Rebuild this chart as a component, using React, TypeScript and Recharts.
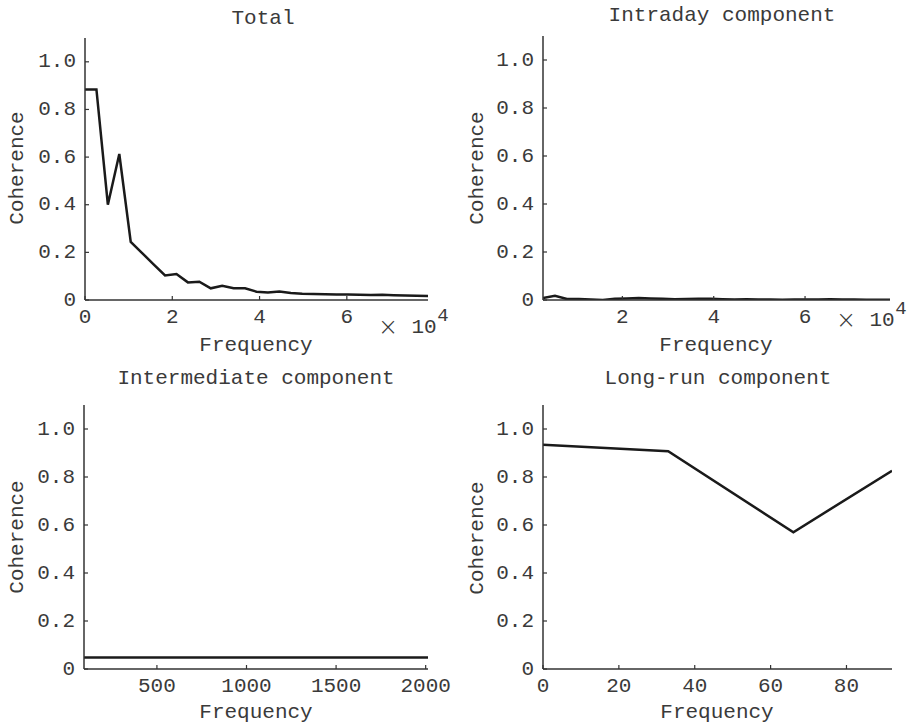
import React from 'react';
import { LineChart, Line, XAxis, YAxis } from 'recharts';

// frequency grids and coherence estimates
const totalFreq = [0, 2620, 5240, 7860, 10480, 13100, 15720, 18340, 20960, 23580, 26200, 28820, 31440, 34060, 36680, 39300, 41920, 44540, 47160, 49780, 52400, 55020, 57640, 60260, 62880, 65500, 68120, 70740, 73360, 75980, 78600];
const totalCoh = [0.884, 0.884, 0.4, 0.613, 0.244, 0.197, 0.15, 0.103, 0.109, 0.074, 0.077, 0.049, 0.06, 0.049, 0.049, 0.035, 0.031, 0.036, 0.029, 0.026, 0.025, 0.024, 0.023, 0.023, 0.022, 0.021, 0.022, 0.02, 0.019, 0.018, 0.017];

const intradayFreq = [2620, 5240, 7860, 10480, 13100, 15720, 18340, 20960, 23580, 26200, 28820, 31440, 34060, 36680, 39300, 41920, 44540, 47160, 49780, 52400, 55020, 57640, 60260, 62880, 65500, 68120, 70740, 73360, 75980, 78600];
const intradayCoh = [0.008, 0.018, 0.004, 0.004, 0.002, 0.0, 0.005, 0.006, 0.008, 0.006, 0.005, 0.003, 0.004, 0.005, 0.005, 0.003, 0.002, 0.003, 0.002, 0.002, 0.001, 0.002, 0.002, 0.002, 0.003, 0.002, 0.002, 0.001, 0.001, 0.001];

const intermediateFreq = [93, 189, 285, 381, 477, 573, 669, 765, 861, 957, 1053, 1149, 1245, 1341, 1437, 1533, 1629, 1725, 1821, 1917, 2013];
const intermediateCoh = [0.048, 0.048, 0.048, 0.048, 0.048, 0.048, 0.048, 0.048, 0.048, 0.048, 0.048, 0.048, 0.048, 0.048, 0.048, 0.048, 0.048, 0.048, 0.048, 0.048, 0.048];

const longRunFreq = [0, 33, 66, 92];
const longRunCoh = [0.934, 0.907, 0.57, 0.826];

const yTicks = [0, 0.2, 0.4, 0.6, 0.8, 1.0];

const FONT = '"Liberation Mono", "DejaVu Sans Mono", monospace';
const TXT = '#3a3a3a';

const zip = (xs: number[], ys: number[]) => xs.map((f, i) => ({ f, c: ys[i] }));

const XTick = (props: any) => {
  const { x, y, payload, fmt } = props;
  return (
    <g>
      <line x1={x} x2={x} y1={y} y2={y - 4} stroke="#333" strokeWidth={1.2} />
      <text x={x} y={y + 17} textAnchor="middle" dominantBaseline="central" fontFamily={FONT} fontSize={21} fill={TXT}>
        {fmt(payload.value)}
      </text>
    </g>
  );
};

const YTick = (props: any) => {
  const { x, y, payload } = props;
  return (
    <g>
      <line x1={x} x2={x + 4} y1={y} y2={y} stroke="#333" strokeWidth={1.2} />
      <text x={x - 9} y={y} textAnchor="end" dominantBaseline="central" fontFamily={FONT} fontSize={21} fill={TXT}>
        {payload.value === 0 ? '0' : payload.value.toFixed(1)}
      </text>
    </g>
  );
};

const Txt = ({ x, y, rot, size = 21, font = FONT, weight = 400, children }: any) => (
  <div
    style={{
      position: 'absolute', left: x, top: y, whiteSpace: 'pre',
      transform: `translate(-50%, -50%)${rot ? ' rotate(-90deg)' : ''}`,
      fontFamily: font, fontSize: size, fontWeight: weight, color: TXT, lineHeight: 1,
    }}
  >
    {children}
  </div>
);

// "× 10^4" multiplier under the right end of the x axis
const Exp = ({ x, y }: any) => (
  <>
    <Txt x={x} y={y} size={24} font='"DejaVu Sans", sans-serif' weight={200}>×</Txt>
    <Txt x={x + 36} y={y}>10</Txt>
    <Txt x={x + 55} y={y - 11} size={19}>4</Txt>
  </>
);

const Panel = ({ left, top, margin, data, domain, ticks, fmt }: any) => (
  <div style={{ position: 'absolute', left, top }}>
    <LineChart width={454} height={362} data={data} margin={margin}>
      <XAxis
        dataKey="f" type="number" domain={domain} ticks={ticks} interval={0} allowDataOverflow
        height={30} tickSize={0} tickMargin={0} tickLine={false}
        axisLine={{ stroke: '#333', strokeWidth: 1.5 }}
        tick={(p: any) => <XTick {...p} fmt={fmt} />}
      />
      <YAxis
        type="number" domain={[0, 1.1]} ticks={yTicks} interval={0} allowDataOverflow
        width={60} tickSize={0} tickMargin={0} tickLine={false}
        axisLine={{ stroke: '#333', strokeWidth: 1.5 }}
        tick={(p: any) => <YTick {...p} />}
      />
      <Line dataKey="c" type="linear" stroke="#1a1a1a" strokeWidth={2.5} dot={false} isAnimationActive={false} />
    </LineChart>
  </div>
);

export default function App() {
  return (
    <div style={{ position: 'absolute', left: 0, top: 0, width: 908, height: 725, background: '#fff' }}>
      <Panel
        left={0} top={0} margin={{ top: 38, right: 26, left: 25, bottom: 32 }}
        data={zip(totalFreq, totalCoh)} domain={[0, 78600]} ticks={[0, 20000, 40000, 60000]}
        fmt={(v: number) => String(v / 10000)}
      />
      <Panel
        left={454} top={0} margin={{ top: 36, right: 18, left: 29, bottom: 32 }}
        data={zip(intradayFreq, intradayCoh)} domain={[2620, 78600]} ticks={[20000, 40000, 60000]}
        fmt={(v: number) => String(v / 10000)}
      />
      <Panel
        left={0} top={362} margin={{ top: 43, right: 26, left: 24, bottom: 25 }}
        data={zip(intermediateFreq, intermediateCoh)} domain={[93, 2013]} ticks={[500, 1000, 1500, 2000]}
        fmt={(v: number) => String(v)}
      />
      <Panel
        left={454} top={362} margin={{ top: 43, right: 16, left: 29, bottom: 25 }}
        data={zip(longRunFreq, longRunCoh)} domain={[0, 92]} ticks={[0, 20, 40, 60, 80]}
        fmt={(v: number) => String(v)}
      />

      <Txt x={263} y={18}>Total</Txt>
      <Txt x={722} y={15}>Intraday component</Txt>
      <Txt x={256} y={378}>Intermediate component</Txt>
      <Txt x={718} y={378}>Long-run component</Txt>

      <Txt x={17} y={168} rot>Coherence</Txt>
      <Txt x={477} y={168} rot>Coherence</Txt>
      <Txt x={17} y={537} rot>Coherence</Txt>
      <Txt x={477} y={538} rot>Coherence</Txt>

      <Txt x={256} y={345}>Frequency</Txt>
      <Txt x={716} y={345}>Frequency</Txt>
      <Txt x={256} y={712}>Frequency</Txt>
      <Txt x={717} y={712}>Frequency</Txt>

      <Exp x={388} y={327} />
      <Exp x={846} y={320} />
    </div>
  );
}
